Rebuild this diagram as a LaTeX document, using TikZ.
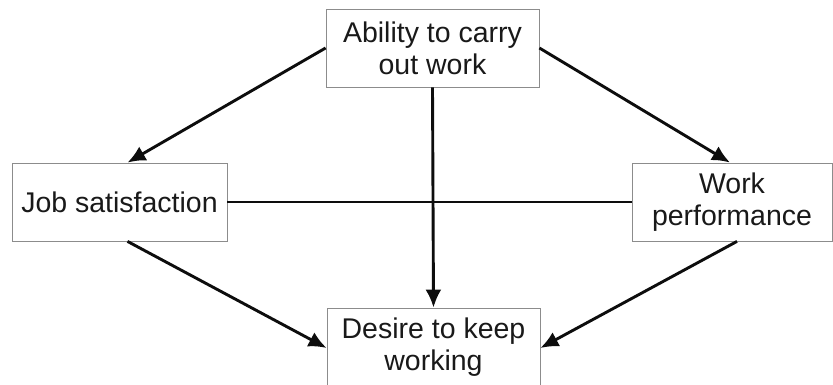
\documentclass[tikz,border=0pt]{standalone}
\usepackage{fontspec}
\setmainfont{Liberation Sans}
\usepackage{tikz}
\usetikzlibrary{arrows.meta,positioning}

\begin{document}
\begin{tikzpicture}[x=1pt, y=1pt, box/.style={shape=rectangle, draw=black!45, line width=0.8pt, minimum width=213pt, minimum height=78pt, align=center, inner sep=0, font=\fontsize{28.5}{32}\selectfont, text=black!90}, link/.style={line width=2.9pt, black!95}, >={Latex[length=18pt,width=16pt]}]
				\useasboundingbox (0,0) rectangle (833,385);
				\node[box] (ability) at (432.5,337) {Ability to carry\\out work};
				\node[box, minimum width=215pt] (job) at (119.5,183) {Job satisfaction};
				\node[box, minimum width=200pt] (perf) at (732,183) {Work\\performance};
				\node[box] (desire) at (433.5,38) {Desire to keep\\working};
				\draw[link] (job.east) to (perf.west);
				\draw[link,->] (ability.west) to ([xshift=8pt]job.north);
				\draw[link,->] (ability.east) to ([xshift=-2pt]perf.north);
				\draw[link,->] (ability.south) to (desire.north);
				\draw[link,->] ([xshift=8pt]job.south) to ([yshift=-1pt]desire.west);
				\draw[link,->] ([xshift=5pt]perf.south) to ([yshift=-1pt]desire.east);
			\end{tikzpicture}
\end{document}
